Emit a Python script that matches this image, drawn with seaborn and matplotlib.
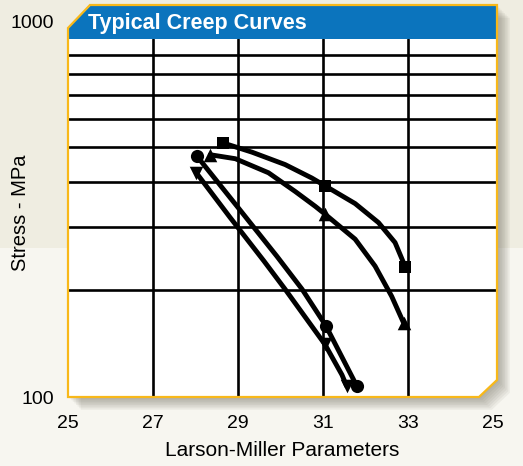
import matplotlib
matplotlib.use("Agg")
import matplotlib.pyplot as plt
import matplotlib.transforms as mtransforms
from matplotlib.patches import Polygon, Rectangle
import seaborn as sns

# Curve data (Larson-Miller parameter vs stress in MPa)
sq_x = [28.66, 29.33, 30.11, 30.74, 31.76, 32.31, 32.70, 32.94]
sq_y = [513, 484, 447, 410, 348, 308, 271, 232]
up_x = [28.35, 28.94, 29.72, 30.35, 30.82, 31.04, 31.76, 32.23, 32.62, 32.90]
up_y = [476, 464, 424, 376, 342, 326, 277, 233, 192, 162]
ci_x = [28.04, 28.98, 29.92, 30.51, 31.07, 31.45, 31.80]
ci_y = [471, 342, 248, 201, 159, 130, 108]
dn_x = [28.02, 28.81, 29.61, 30.11, 31.05, 31.45, 31.56]
dn_y = [424, 319, 241, 201, 141, 116, 108]

# marker points on each curve
sq_mx = [28.66, 31.05, 32.94]
sq_my = [513, 389, 232]
up_mx = [28.35, 31.04, 32.90]
up_my = [476, 326, 162]
ci_mx = [28.04, 31.07, 31.80]
ci_my = [471, 159, 108]
dn_mx = [28.02, 31.05, 31.56]
dn_my = [424, 141, 108]

x_ticks = [25, 27, 29, 31, 33, 35]
x_labels = ["25", "27", "29", "31", "33", "25"]
x_grid = [27, 29, 31, 33]
y_grid = [200, 300, 400, 500, 600, 700, 800, 900]

sns.set_style("white")
plt.rcParams["font.family"] = ["Liberation Sans", "DejaVu Sans"]
plt.rcParams["text.color"] = "black"
plt.rcParams["xtick.color"] = "black"
plt.rcParams["ytick.color"] = "black"

W, H = 523, 466
fig = plt.figure(figsize=(W / 100, H / 100), dpi=100)
fig.patch.set_facecolor("#f7f6f0")


def fp(pts):
    # pixel coords (from top-left) -> figure fraction
    return [(x / W, 1 - y / H) for x, y in pts]


# background bands
fig.add_artist(Rectangle((0, 1 - 248 / H), 1, 248 / H, transform=fig.transFigure,
                         facecolor="#efede1", edgecolor="none", zorder=-5))

frame = [(68, 28), (90, 5), (497, 5), (497, 380), (479, 397), (68, 397)]

# soft drop shadow
for i in range(1, 9):
    sh = [(x + i * 1.6, y + i * 1.6) for x, y in frame]
    fig.add_artist(Polygon(fp(sh), closed=True, transform=fig.transFigure,
                           facecolor="#6d6a5c", edgecolor="none", alpha=0.08, zorder=-4))

fig.add_artist(Polygon(fp(frame), closed=True, transform=fig.transFigure,
                       facecolor="white", edgecolor="none", zorder=-3))

ax = fig.add_axes([68 / W, 1 - 398 / H, 429 / W, 359 / H])
ax.set_facecolor("none")
ax.set_yscale("log")
ax.set_xlim(25, 35.1)
ax.set_ylim(100, 1000)

for gx in x_grid:
    ax.axvline(gx, color="black", lw=1.9, zorder=1)
for gy in y_grid:
    ax.axhline(gy, color="black", lw=1.9, zorder=1)

curves = [
    (sq_x, sq_y, sq_mx, sq_my, "s", 75),
    (up_x, up_y, up_mx, up_my, "^", 95),
    (ci_x, ci_y, ci_mx, ci_my, "o", 90),
    (dn_x, dn_y, dn_mx, dn_my, "v", 95),
]
for lx, ly, mx, my, mk, ms in curves:
    sns.lineplot(x=lx, y=ly, ax=ax, color="black", lw=3.5, sort=False,
                 estimator=None, zorder=3, solid_joinstyle="round",
                 solid_capstyle="round")
    sns.scatterplot(x=mx, y=my, ax=ax, color="black", marker=mk, s=ms,
                    linewidth=0, zorder=4, clip_on=False)

for s in ax.spines.values():
    s.set_visible(False)

ax.set_xticks(x_ticks)
ax.set_xticklabels(x_labels, fontsize=14)
ax.set_yticks([100, 1000])
ax.set_yticklabels(["100", "1000"], fontsize=14)
ax.yaxis.set_minor_locator(matplotlib.ticker.NullLocator())
ax.tick_params(axis="both", length=0)
ax.tick_params(axis="x", pad=12)
ax.tick_params(axis="y", pad=10)
# the 1000 label sits level with the title bar
lab = ax.get_yticklabels()[1]
lab.set_transform(lab.get_transform() + mtransforms.ScaledTranslation(0, 0.17, fig.dpi_scale_trans))
lab0 = ax.get_yticklabels()[0]
lab0.set_transform(lab0.get_transform() + mtransforms.ScaledTranslation(0, 0.01, fig.dpi_scale_trans))

# title bar
bar = [(68, 28), (90, 6), (497, 6), (497, 39), (68, 39)]
fig.add_artist(Polygon(fp(bar), closed=True, transform=fig.transFigure,
                       facecolor="#0b74bd", edgecolor="none", zorder=5))
fig.text(88 / W, 1 - 23 / H, "Typical Creep Curves", color="white",
         fontsize=15.5, fontweight="bold", ha="left", va="center", zorder=6)

# yellow outline
fig.add_artist(Polygon(fp(frame), closed=True, transform=fig.transFigure,
                       facecolor="none", edgecolor="#f8b819", lw=1.6, zorder=6))

fig.text(282 / W, 1 - 450 / H, "Larson-Miller Parameters", fontsize=15,
         ha="center", va="center")
fig.text(21 / W, 1 - 213 / H, "Stress - MPa", fontsize=14.5, rotation=90,
         ha="center", va="center")

fig.savefig("out.png", dpi=100)
